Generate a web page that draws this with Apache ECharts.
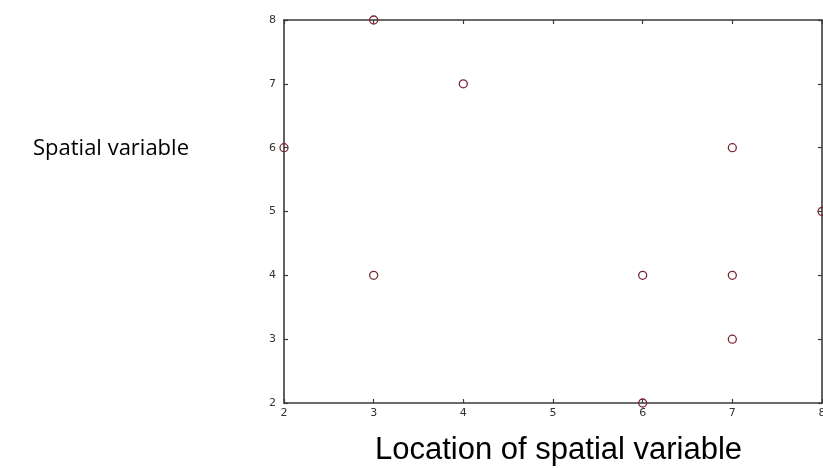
<!DOCTYPE html>
<html>
<head>
<meta charset="utf-8">
<script src="https://cdn.jsdelivr.net/npm/echarts@6/dist/echarts.min.js"></script>
<style>
  html, body { margin: 0; padding: 0; background: #fff; }
  #chart { width: 823px; height: 468px; }
</style>
</head>
<body>
<div id="chart"></div>
<script>
// data
const xValues = [3, 4, 2, 7, 8, 3, 6, 7, 7, 6];
const yValues = [8, 7, 6, 6, 5, 4, 4, 4, 3, 2];
const xTitle = 'Location of spatial variable';
const yTitle = 'Spatial variable';

const points = xValues.map((x, i) => [x, yValues[i]]);

const chart = echarts.init(document.getElementById('chart'));

const axisColor = '#3a3a3a';
const baseAxis = {
  type: 'value',
  min: 2,
  max: 8,
  interval: 1,
  axisLine: { show: true, onZero: false, lineStyle: { color: axisColor, width: 1.6 } },
  axisTick: { show: true, inside: true, length: 4, lineStyle: { color: axisColor, width: 1.2 } },
  splitLine: { show: false },
};

chart.setOption({
  animation: false,
  backgroundColor: '#fff',
  grid: { left: 284, right: 1, top: 20, bottom: 65, outerBoundsMode: 'none' },
  xAxis: [
    {
      ...baseAxis,
      position: 'bottom',
      axisLabel: { color: '#333', fontSize: 11, margin: 5, fontFamily: 'DejaVu Sans' },
    },
    {
      ...baseAxis,
      position: 'top',
      axisLabel: { show: false },
    },
  ],
  yAxis: [
    {
      ...baseAxis,
      position: 'left',
      axisLabel: { color: '#333', fontSize: 11, margin: 8, fontFamily: 'DejaVu Sans' },
    },
    {
      ...baseAxis,
      position: 'right',
      axisLabel: { show: false },
    },
  ],
  series: [
    {
      type: 'scatter',
      data: points,
      symbol: 'circle',
      symbolSize: 8,
      itemStyle: { color: 'rgba(0,0,0,0)', borderColor: '#7a2535', borderWidth: 1.3, opacity: 1 },
    },
  ],
  graphic: [
    {
      type: 'text',
      left: 375,
      top: 435,
      style: { text: xTitle, fontSize: 31, fontFamily: 'Liberation Sans', fill: '#000' },
    },
    {
      type: 'text',
      left: 33,
      top: 138,
      style: { text: yTitle, fontSize: 22, fontFamily: 'Open Sans', fill: '#000' },
    },
  ],
});
</script>
</body>
</html>
